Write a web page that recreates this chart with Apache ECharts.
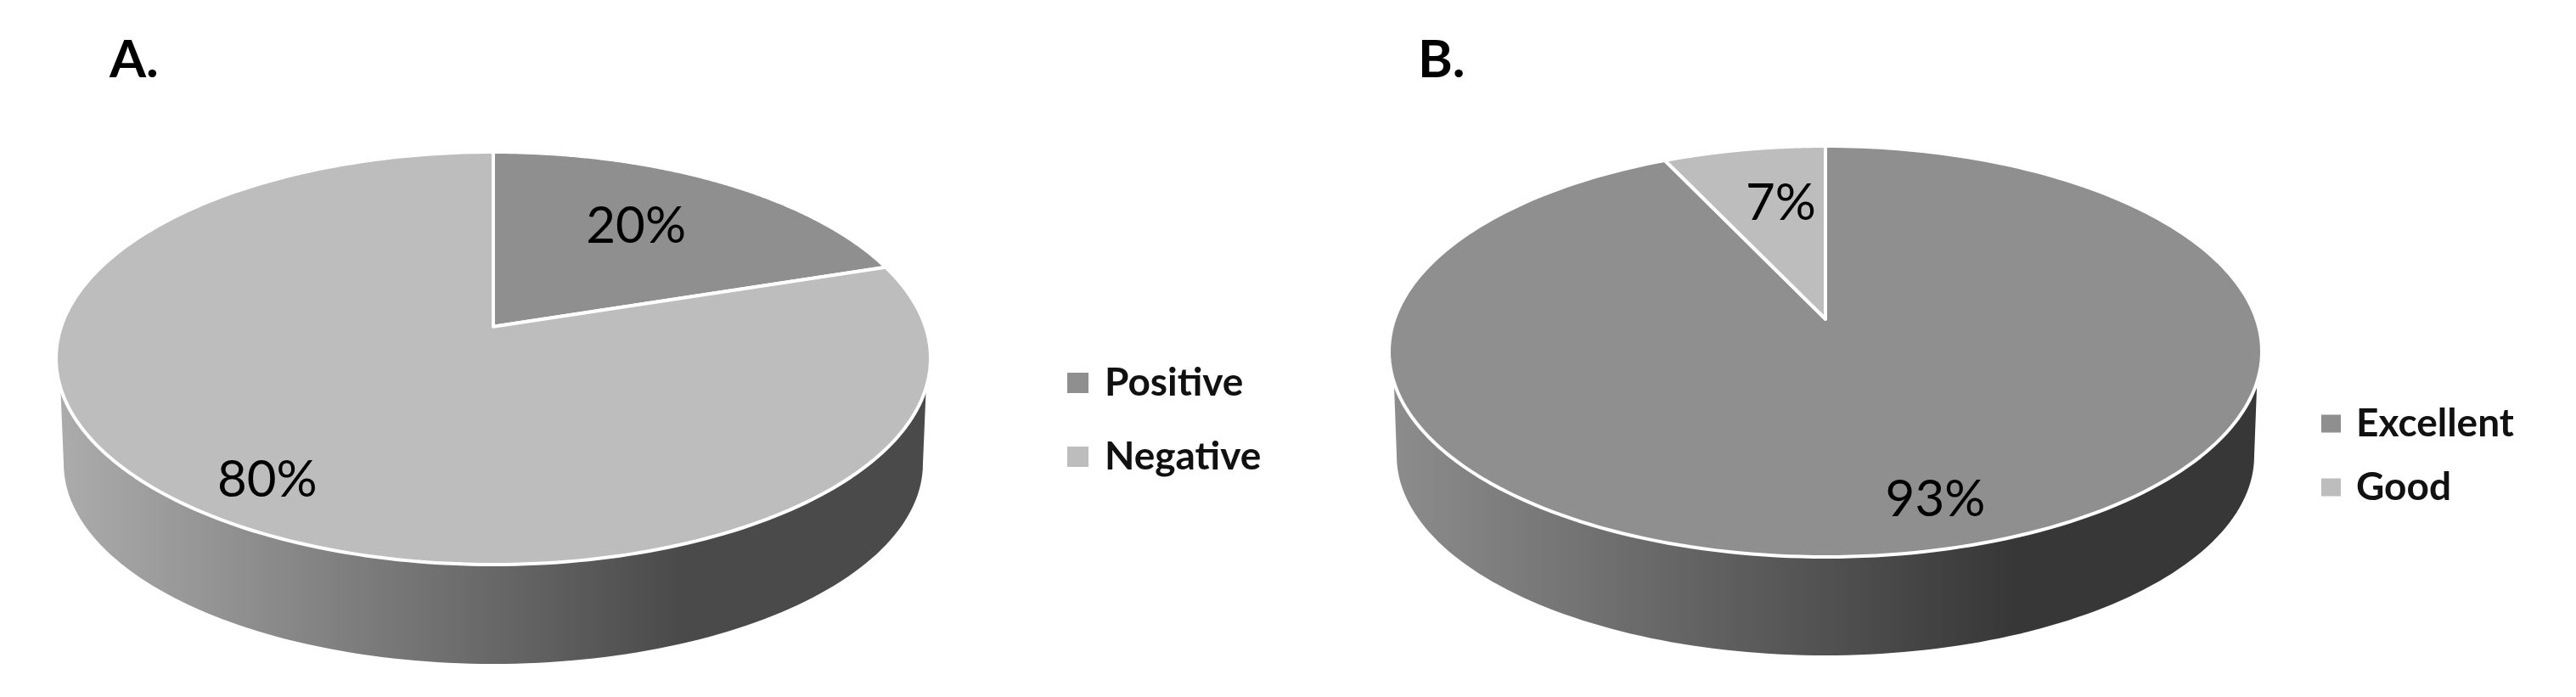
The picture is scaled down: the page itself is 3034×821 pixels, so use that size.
<!DOCTYPE html>
<html><head><meta charset="utf-8">
<style>html,body{margin:0;padding:0;background:#fff}#c{width:3034px;height:821px}</style>
<script src="https://cdn.jsdelivr.net/npm/echarts@6/dist/echarts.min.js"></script>
</head><body><div id="c"></div>
<script>
const categoriesA = ['Positive', 'Negative'];
const valuesA = [20, 80];
const categoriesB = ['Excellent', 'Good'];
const valuesB = [93, 7];
const sliceColors = ['#8f8f8f', '#bdbdbd'];
const sliceColorsB = ['#8f8f8f', '#bdbdbd'];

const FONT = 'Lato';
const pieA = { cx: 581, cy: 422, rx: 515, ry: 243, tilt: -0.153, wallY: 33, cy2: 546, rx2: 506, ry2: 236,
  wallStops: ['#ababab', '#4a4a4a'], wallEnd: 0.72, labelR: [0.69, 0.826], labelNudge: [-22, 9], labelDy: 4 };
const pieB = { cx: 2150, cy: 414, rx: 514, ry: 242, tilt: -0.158, wallY: 33, cy2: 537, rx2: 505, ry2: 235,
  wallStops: ['#8c8c8c', '#373737'], wallEnd: 0.72, labelR: [0.796, 0.674], labelNudge: [29, 15], labelDy: 4 };

// Perspective mapping of a disc onto the ellipse (the disc centre lands on the apex).
function project(p, a, r) {
  const u = r * Math.sin(a), v = -r * Math.cos(a), t = p.tilt;
  const d = 1 + t * v;
  return [p.cx + p.rx * u * Math.sqrt(1 - t * t) / d, p.cy + p.ry * (v + t) / d];
}

function sliceSeries(p, names, values, colors, idx) {
  const total = values.reduce((s, v) => s + v, 0);
  const before = values.slice(0, idx).reduce((s, v) => s + v, 0);
  const a0 = before / total * 2 * Math.PI;
  const a1 = (before + values[idx]) / total * 2 * Math.PI;
  return {
    type: 'custom',
    name: names[idx],
    coordinateSystem: 'none',
    z: 2,
    silent: true,
    itemStyle: { color: colors[idx] },
    data: [values[idx]],
    renderItem() {
      const N = 240, arc = [];
      for (let i = 0; i <= N; i++) arc.push(project(p, a0 + (a1 - a0) * i / N, 1));
      const children = [];
      // wall: only the front part of the slice's rim
      const front = arc.filter(q => q[1] >= p.cy + p.wallY);
      if (front.length > 1) {
        const pts = front.slice();
        for (let i = 0; i <= 120; i++) {
          const th = Math.PI * i / 120;
          pts.push([p.cx - p.rx2 * Math.cos(th), p.cy2 + p.ry2 * Math.sin(th)]);
        }
        const x0 = p.cx - p.rx2, w = 2 * p.rx2;
        children.push({ type: 'polygon', shape: { points: pts }, style: {
          fill: { type: 'linear', x: x0, y: 0, x2: x0 + w, y2: 0, global: true, colorStops: [
            { offset: 0, color: p.wallStops[0] },
            { offset: p.wallEnd, color: p.wallStops[1] },
            { offset: 1, color: p.wallStops[1] } ] } }, z2: 1 });
      }
      const top = [project(p, 0, 0)].concat(arc);
      children.push({ type: 'polygon', shape: { points: top }, z2: 2,
        style: { fill: colors[idx], stroke: '#fff', lineWidth: 4, lineJoin: 'round' } });
      const mid = (a0 + a1) / 2, lp = project(p, mid, p.labelR[idx]);
      children.push({ type: 'text', z2: 5, style: {
        text: values[idx] + '%', x: lp[0] + p.labelNudge[idx], y: lp[1] + p.labelDy, align: 'center', verticalAlign: 'middle',
        font: '400 60px ' + FONT, fill: '#000' } });
      return { type: 'group', children };
    }
  };
}

const titleStyle = { fontFamily: FONT, fontSize: 62, fontWeight: 700, color: '#000' };
const legendBase = { orient: 'vertical', icon: 'rect', selectedMode: false, padding: 0 };
const option = {
  backgroundColor: '#fff',
  animation: false,
  title: [
    { text: 'A.', left: 129, top: 40, padding: 0, textStyle: titleStyle },
    { text: 'B.', left: 1670, top: 40, padding: 0, textStyle: titleStyle }
  ],
  legend: [
    Object.assign({}, legendBase, { data: categoriesA, left: 1257, top: 428, itemWidth: 25, itemHeight: 24, itemGap: 41,
      textStyle: { fontFamily: FONT, fontSize: 46, fontWeight: 700, color: '#111', padding: [0, 0, 0, 14] } }),
    Object.assign({}, legendBase, { data: categoriesB, left: 2734, top: 476, itemWidth: 23, itemHeight: 21, itemGap: 29,
      textStyle: { fontFamily: FONT, fontSize: 46, fontWeight: 700, color: '#111', padding: [0, 0, 0, 13] } })
  ],
  series: [
    sliceSeries(pieA, categoriesA, valuesA, sliceColors, 0),
    sliceSeries(pieA, categoriesA, valuesA, sliceColors, 1),
    sliceSeries(pieB, categoriesB, valuesB, sliceColorsB, 0),
    sliceSeries(pieB, categoriesB, valuesB, sliceColorsB, 1)
  ]
};
echarts.init(document.getElementById('c')).setOption(option);
</script></body></html>
